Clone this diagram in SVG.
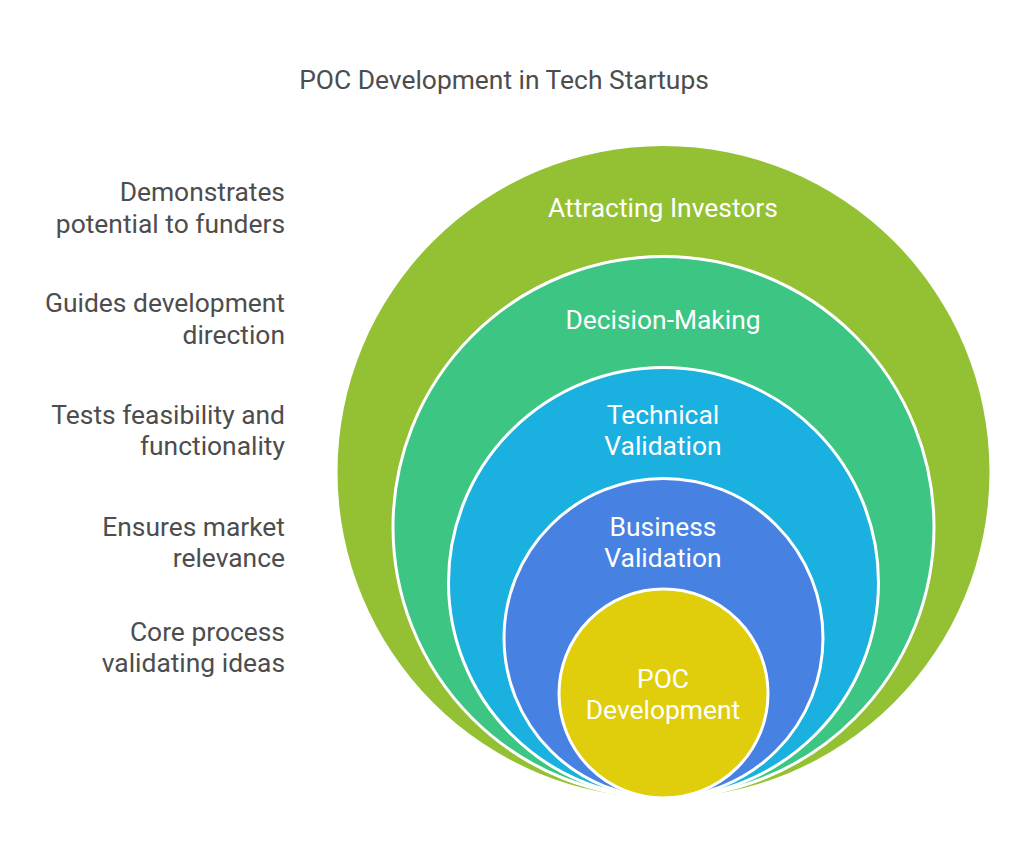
<svg xmlns="http://www.w3.org/2000/svg" width="1024" height="864" viewBox="0 0 1024 864">
<style>
.lbl{font-family:Roboto,"Liberation Sans",sans-serif;font-size:26.4px;fill:#4d4d4d;text-anchor:end}
.in{font-family:Roboto,"Liberation Sans",sans-serif;font-size:26.4px;fill:#ffffff;text-anchor:middle}
.title{font-family:Roboto,"Liberation Sans",sans-serif;font-size:26.4px;fill:#4d4d4d;text-anchor:middle}
.ring{stroke:#ffffff;stroke-width:3}
</style>
<rect width="1024" height="864" fill="#ffffff"/>
<text class="title" x="504" y="89">POC Development in Tech Startups</text>
<g id="investors">
<circle cx="663.5" cy="472" r="326" fill="#94c133"/>
<text class="in" x="663" y="217">Attracting Investors</text>
</g>
<g id="decision">
<circle class="ring" cx="663.5" cy="527" r="270.5" fill="#3dc584"/>
<text class="in" x="663" y="329">Decision-Making</text>
</g>
<g id="technical">
<circle class="ring" cx="663.5" cy="582.5" r="215" fill="#1ab0e0"/>
<text class="in" x="663" y="424">Technical</text>
<text class="in" x="663" y="455">Validation</text>
</g>
<g id="business">
<circle class="ring" cx="663.5" cy="638" r="159.5" fill="#4782e2"/>
<text class="in" x="663" y="536">Business</text>
<text class="in" x="663" y="567">Validation</text>
</g>
<g id="poc">
<circle class="ring" cx="663.5" cy="693.5" r="104.5" fill="#e0cd0c"/>
<text class="in" x="663" y="688">POC</text>
<text class="in" x="663" y="719">Development</text>
</g>
<g id="labels">
<text class="lbl" x="285" y="201">Demonstrates</text>
<text class="lbl" x="285" y="233">potential to funders</text>
<text class="lbl" x="285" y="312">Guides development</text>
<text class="lbl" x="285" y="344">direction</text>
<text class="lbl" x="285" y="424">Tests feasibility and</text>
<text class="lbl" x="285" y="455">functionality</text>
<text class="lbl" x="285" y="536">Ensures market</text>
<text class="lbl" x="285" y="567">relevance</text>
<text class="lbl" x="285" y="641">Core process</text>
<text class="lbl" x="285" y="672">validating ideas</text>
</g>
<g id="connectors"></g>
</svg>
